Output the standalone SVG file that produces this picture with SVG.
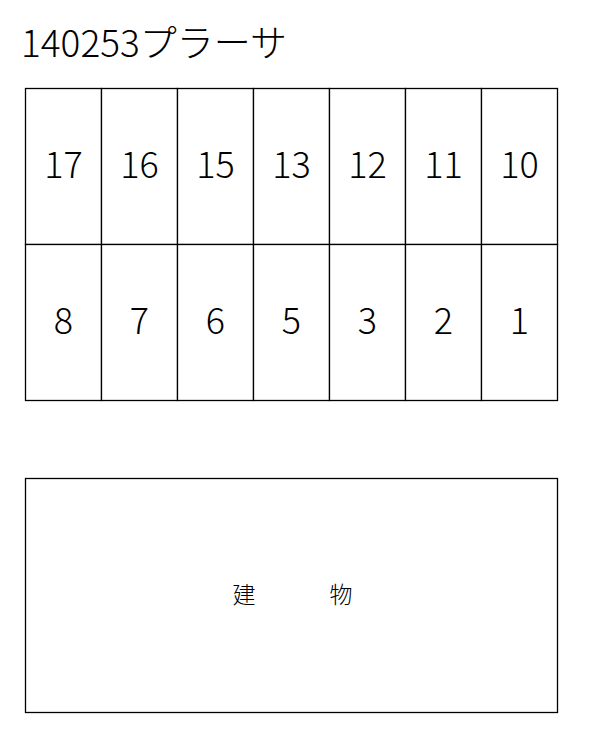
<svg xmlns="http://www.w3.org/2000/svg" width="602" height="741" viewBox="0 0 602 741">
<style>
.cell{fill:#fff;stroke:#000;stroke-width:1.3}
.num{font-family:"Noto Sans CJK JP","Noto Sans",sans-serif;font-weight:300;font-size:36px;text-anchor:middle;fill:#000}
.title{font-family:"Noto Sans CJK JP","Noto Sans",sans-serif;font-weight:300;font-size:37px;fill:#000}
.bld{font-family:"Noto Sans CJK JP",sans-serif;font-weight:300;font-size:23px;text-anchor:middle;fill:#000}
</style>
<rect width="602" height="741" fill="#fff"/>
<text class="title" x="21" y="57">140253プラーサ</text>
<g id="top-row">
<g id="s17"><rect class="cell" x="25.5" y="88.5" width="76" height="156"/><text class="num" x="63.5" y="178">17</text></g>
<g id="s16"><rect class="cell" x="101.5" y="88.5" width="76" height="156"/><text class="num" x="139.5" y="178">16</text></g>
<g id="s15"><rect class="cell" x="177.5" y="88.5" width="76" height="156"/><text class="num" x="215.5" y="178">15</text></g>
<g id="s13"><rect class="cell" x="253.5" y="88.5" width="76" height="156"/><text class="num" x="291.5" y="178">13</text></g>
<g id="s12"><rect class="cell" x="329.5" y="88.5" width="76" height="156"/><text class="num" x="367.5" y="178">12</text></g>
<g id="s11"><rect class="cell" x="405.5" y="88.5" width="76" height="156"/><text class="num" x="443.5" y="178">11</text></g>
<g id="s10"><rect class="cell" x="481.5" y="88.5" width="76" height="156"/><text class="num" x="519.5" y="178">10</text></g>
</g>
<g id="bottom-row">
<g id="s8"><rect class="cell" x="25.5" y="244.5" width="76" height="156"/><text class="num" x="63.5" y="334">8</text></g>
<g id="s7"><rect class="cell" x="101.5" y="244.5" width="76" height="156"/><text class="num" x="139.5" y="334">7</text></g>
<g id="s6"><rect class="cell" x="177.5" y="244.5" width="76" height="156"/><text class="num" x="215.5" y="334">6</text></g>
<g id="s5"><rect class="cell" x="253.5" y="244.5" width="76" height="156"/><text class="num" x="291.5" y="334">5</text></g>
<g id="s3"><rect class="cell" x="329.5" y="244.5" width="76" height="156"/><text class="num" x="367.5" y="334">3</text></g>
<g id="s2"><rect class="cell" x="405.5" y="244.5" width="76" height="156"/><text class="num" x="443.5" y="334">2</text></g>
<g id="s1"><rect class="cell" x="481.5" y="244.5" width="76" height="156"/><text class="num" x="519.5" y="334">1</text></g>
</g>
<g id="building">
<rect class="cell" x="25.5" y="478.5" width="532" height="234"/>
<text class="bld" x="244" y="603">建</text>
<text class="bld" x="341" y="603">物</text>
</g>
</svg>
